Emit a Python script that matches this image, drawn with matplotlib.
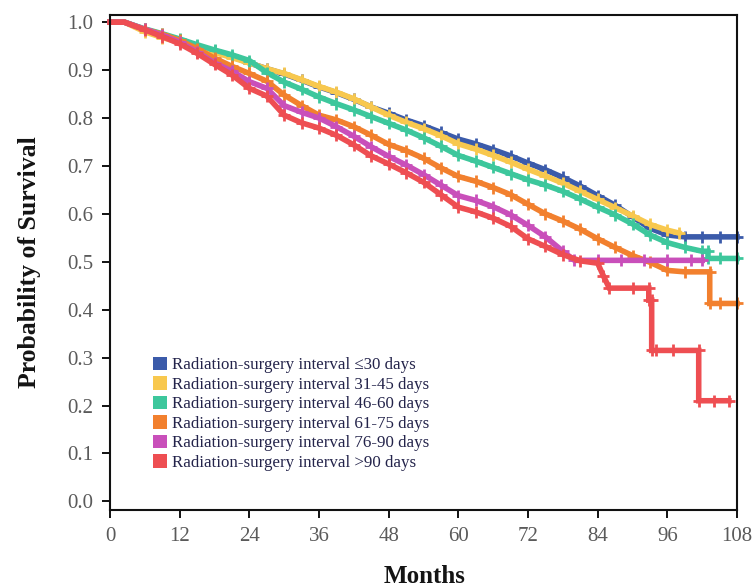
import matplotlib
matplotlib.use("Agg")
import matplotlib.pyplot as plt
from matplotlib.patches import Patch

plt.rcParams['font.family'] = ['Liberation Serif', 'DejaVu Serif']

# ---------------- data ----------------
labels = [
    "Radiation-surgery interval \u226430 days",
    "Radiation-surgery interval 31-45 days",
    "Radiation-surgery interval 46-60 days",
    "Radiation-surgery interval 61-75 days",
    "Radiation-surgery interval 76-90 days",
    "Radiation-surgery interval >90 days",
]
colors = ["#3B5BAA", "#F8C84E", "#3DC79C", "#F2802E", "#C94FBA", "#EE4E52"]

t_le30 = [0, 2.5, 6, 9, 12, 15, 18, 21, 24, 27, 30, 33, 36, 39, 42, 45, 48, 51, 54,
          57, 60, 63, 66, 69, 72, 75, 78, 81, 84, 87, 90, 93, 96, 99, 102, 105, 108]
s_le30 = [1.000, 1.000, 0.985, 0.974, 0.962, 0.950, 0.940, 0.928, 0.915, 0.903,
          0.892, 0.879, 0.865, 0.853, 0.839, 0.823, 0.810, 0.796, 0.784, 0.770,
          0.756, 0.746, 0.734, 0.721, 0.706, 0.692, 0.676, 0.658, 0.638, 0.618,
          0.594, 0.570, 0.556, 0.552, 0.552, 0.552, 0.552]

t_31_45 = [0, 2.5, 6, 9, 12, 15, 18, 21, 24, 27, 30, 33, 36, 39, 42, 45, 48, 51, 54,
           57, 60, 63, 66, 69, 72, 75, 78, 81, 84, 87, 90, 93, 96, 98]
s_31_45 = [1.000, 1.000, 0.980, 0.968, 0.958, 0.948, 0.937, 0.926, 0.915, 0.903,
           0.893, 0.880, 0.866, 0.854, 0.840, 0.823, 0.806, 0.791, 0.778, 0.763,
           0.746, 0.735, 0.722, 0.708, 0.693, 0.679, 0.664, 0.647, 0.630, 0.613,
           0.596, 0.578, 0.566, 0.560]

t_46_60 = [0, 2.5, 6, 9, 12, 15, 18, 21, 24, 27, 30, 33, 36, 39, 42, 45, 48, 51, 54,
           57, 60, 63, 66, 69, 72, 75, 78, 81, 84, 87, 90, 93, 96, 99, 102, 103, 103, 105, 108]
s_46_60 = [1.000, 1.000, 0.986, 0.976, 0.965, 0.953, 0.942, 0.932, 0.920, 0.895,
           0.875, 0.860, 0.844, 0.830, 0.817, 0.803, 0.789, 0.775, 0.759, 0.741,
           0.722, 0.710, 0.697, 0.684, 0.671, 0.660, 0.647, 0.631, 0.614, 0.598,
           0.579, 0.556, 0.540, 0.530, 0.522, 0.522, 0.507, 0.507, 0.507]

t_61_75 = [0, 2.5, 6, 9, 12, 15, 18, 21, 24, 27, 30, 33, 36, 39, 42, 45, 48, 51, 54,
           57, 60, 63, 66, 69, 72, 75, 78, 81, 84, 87, 90, 93, 96, 99, 103.3, 103.3, 105, 108]
s_61_75 = [1.000, 1.000, 0.985, 0.975, 0.962, 0.945, 0.925, 0.908, 0.893, 0.877,
           0.848, 0.826, 0.806, 0.796, 0.782, 0.764, 0.745, 0.732, 0.716, 0.696,
           0.678, 0.668, 0.655, 0.640, 0.620, 0.600, 0.585, 0.568, 0.548, 0.530,
           0.513, 0.499, 0.482, 0.479, 0.479, 0.413, 0.413, 0.413]

t_76_90 = [0, 2.5, 6, 9, 12, 15, 18, 21, 24, 27, 30, 33, 36, 39, 42, 45, 48, 51, 54,
           57, 60, 63, 66, 69, 72, 75, 78, 80, 84, 88, 92, 96, 100, 102]
s_76_90 = [1.000, 1.000, 0.985, 0.973, 0.958, 0.938, 0.915, 0.898, 0.876, 0.862,
           0.826, 0.812, 0.800, 0.782, 0.762, 0.740, 0.720, 0.702, 0.682, 0.660,
           0.638, 0.628, 0.615, 0.598, 0.576, 0.552, 0.522, 0.503, 0.503, 0.503,
           0.503, 0.503, 0.503, 0.503]

t_gt90 = [0, 2.5, 6, 9, 12, 15, 18, 21, 24, 27, 30, 33, 36, 39, 42, 45, 48, 51, 54,
          57, 60, 63, 66, 69, 72, 75, 78, 81, 84, 85, 86, 90, 92.8, 92.8, 93.3, 93.3,
          94, 97, 101.4, 101.4, 104, 106.6]
s_gt90 = [1.000, 1.000, 0.984, 0.970, 0.955, 0.935, 0.912, 0.890, 0.862, 0.846,
          0.806, 0.790, 0.779, 0.764, 0.744, 0.721, 0.704, 0.686, 0.666, 0.640,
          0.614, 0.604, 0.591, 0.574, 0.548, 0.532, 0.515, 0.502, 0.497, 0.470,
          0.445, 0.445, 0.445, 0.420, 0.420, 0.315, 0.315, 0.315, 0.315, 0.210,
          0.210, 0.210]

times = [t_le30, t_31_45, t_46_60, t_61_75, t_76_90, t_gt90]
survs = [s_le30, s_31_45, s_46_60, s_61_75, s_76_90, s_gt90]

x_ticks = [0, 12, 24, 36, 48, 60, 72, 84, 96, 108]
y_ticks = [0.0, 0.1, 0.2, 0.3, 0.4, 0.5, 0.6, 0.7, 0.8, 0.9, 1.0]

# ---------------- figure ----------------
fig = plt.figure(figsize=(7.55, 5.87), dpi=100)
ax = fig.add_axes([0.1457, 0.1312, 0.8305, 0.8432])

for t, s, c in zip(times, survs, colors):
    ax.plot(t, s, color=c, lw=4.0, solid_joinstyle='miter', clip_on=False)
    ax.plot(t[2:], s[2:], ls='none', marker='+', ms=9, mew=2.0, color=c, clip_on=False)

ax.set_xlim(0, 108)
ax.set_ylim(-0.018, 1.015)
ax.set_xticks(x_ticks)
ax.set_xticklabels([str(v) for v in x_ticks])
ax.set_yticks(y_ticks)
ax.set_yticklabels([f"{v:.1f}" for v in y_ticks])

for sp in ax.spines.values():
    sp.set_linewidth(1.5)
    sp.set_color('#111111')
    sp.set_zorder(5)
ax.tick_params(axis='both', direction='out', length=6, width=1.4,
               labelsize=15, labelcolor='#5a5a5a', pad=6, color='#111111')

ax.set_xlabel("Months", fontsize=18, fontweight='bold', color='#141414')
ax.set_ylabel("Probability of Survival", fontsize=18.5, fontweight='bold', color='#141414')
ax.xaxis.set_label_coords(0.502, -0.112)
ax.yaxis.set_label_coords(-0.11, 0.50)

handles = [Patch(facecolor=c, edgecolor='none') for c in colors]
leg = ax.legend(handles, labels, loc='upper left', bbox_to_anchor=(0.068, 0.310),
                frameon=False, fontsize=12.2, handlelength=0.85, handleheight=0.85,
                handletextpad=0.3, labelspacing=0.17, borderpad=0, borderaxespad=0)
for txt in leg.get_texts():
    txt.set_color('#23234a')

fig.savefig("out.png", dpi=100)
